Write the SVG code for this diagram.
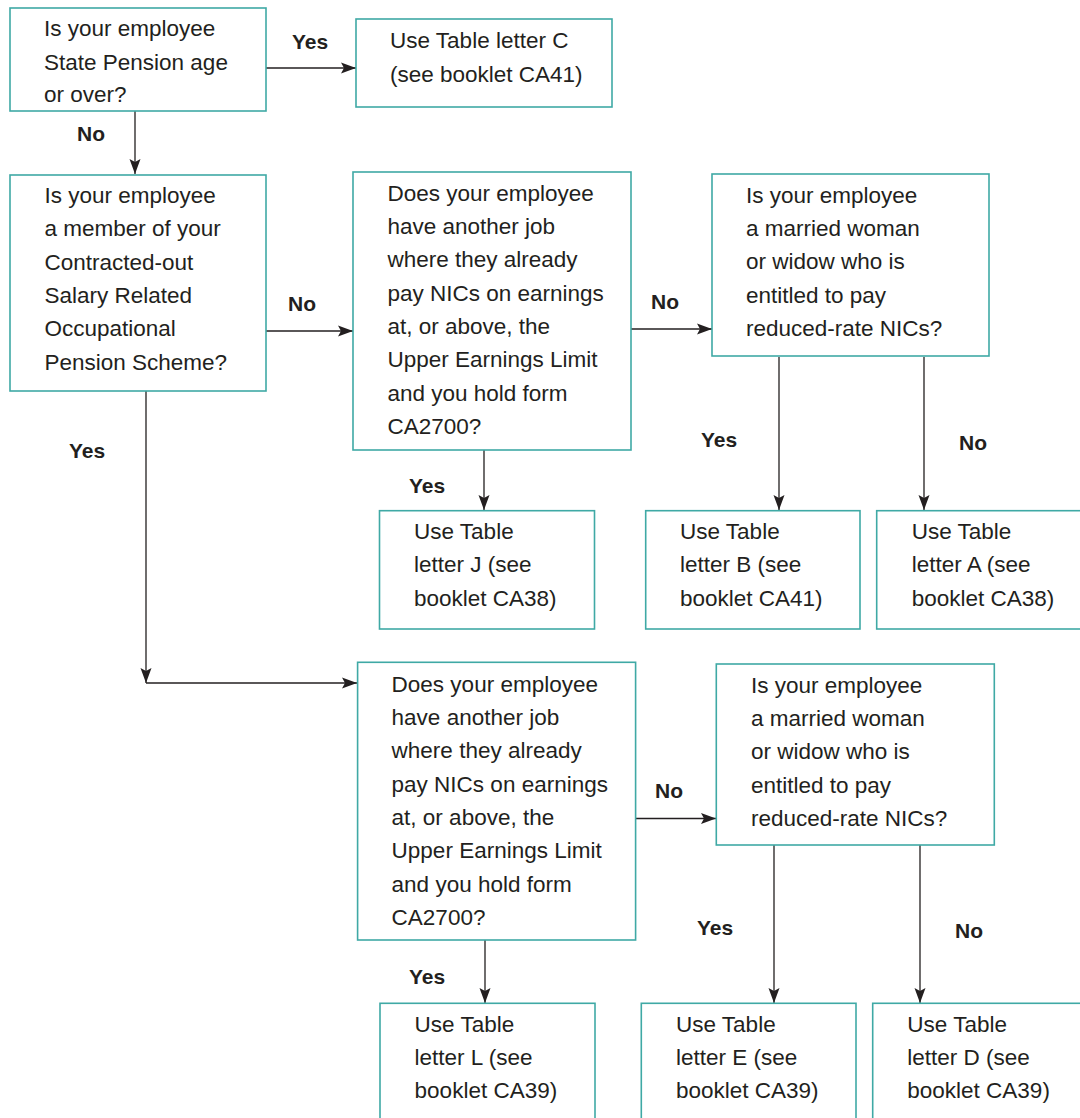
<svg xmlns="http://www.w3.org/2000/svg" width="1080" height="1118" viewBox="0 0 1080 1118">
<defs>
<marker id="ah" markerUnits="userSpaceOnUse" markerWidth="16" markerHeight="12" viewBox="0 0 16 12" refX="15" refY="6" orient="auto">
<path d="M0,0.5 L15,6 L0,11.5 L3,6 Z" fill="#231f20"/>
</marker>
<style>
.box{fill:#fff;stroke:#3fa9a5;stroke-width:1.6}
.t{font-family:"Liberation Sans",Arial,sans-serif;font-size:22.5px;fill:#231f20}
.lbl{font-family:"Liberation Sans",Arial,sans-serif;font-size:21px;font-weight:bold;fill:#231f20}
.c{fill:none;stroke:#231f20;stroke-width:1.3}
.a{marker-end:url(#ah)}
</style>
</defs>
<rect width="1080" height="1118" fill="#fff"/>

<g id="connectors">
<line class="c a" x1="266" y1="68" x2="356" y2="68"/>
<line class="c a" x1="135" y1="111" x2="135" y2="174"/>
<line class="c a" x1="266" y1="331" x2="353" y2="331"/>
<line class="c a" x1="631" y1="329" x2="712" y2="329"/>
<line class="c a" x1="779" y1="357" x2="779" y2="510"/>
<line class="c a" x1="924" y1="357" x2="924" y2="510"/>
<line class="c a" x1="484" y1="450" x2="484" y2="510"/>
<line class="c a" x1="146" y1="391" x2="146" y2="683"/>
<line class="c a" x1="146" y1="683" x2="357" y2="683"/>
<line class="c a" x1="636" y1="818.5" x2="716" y2="818.5"/>
<line class="c a" x1="485" y1="940" x2="485" y2="1003"/>
<line class="c a" x1="774" y1="845" x2="774" y2="1003"/>
<line class="c a" x1="920" y1="845" x2="920" y2="1003"/>
<text class="lbl" x="292" y="49">Yes</text>
<text class="lbl" x="77" y="141">No</text>
<text class="lbl" x="288" y="311">No</text>
<text class="lbl" x="651" y="309">No</text>
<text class="lbl" x="701" y="447">Yes</text>
<text class="lbl" x="959" y="450">No</text>
<text class="lbl" x="409" y="493">Yes</text>
<text class="lbl" x="69" y="458">Yes</text>
<text class="lbl" x="655" y="798">No</text>
<text class="lbl" x="409" y="984">Yes</text>
<text class="lbl" x="697" y="935">Yes</text>
<text class="lbl" x="955" y="938">No</text>
</g>

<g id="q-state-pension">
<rect class="box" x="10" y="8" width="256" height="103"/>
<text class="t" x="44" y="36">Is your employee</text>
<text class="t" x="44" y="69.5">State Pension age</text>
<text class="t" x="44" y="102">or over?</text>
</g>

<g id="r-table-c">
<rect class="box" x="356" y="19" width="256" height="88"/>
<text class="t" x="390" y="48">Use Table letter C</text>
<text class="t" x="390" y="82">(see booklet CA41)</text>
</g>

<g id="q-contracted-out">
<rect class="box" x="10" y="175" width="256" height="216"/>
<text class="t" x="44.5" y="203">Is your employee</text>
<text class="t" x="44.5" y="236.3">a member of your</text>
<text class="t" x="44.5" y="269.6">Contracted-out</text>
<text class="t" x="44.5" y="302.9">Salary Related</text>
<text class="t" x="44.5" y="336.2">Occupational</text>
<text class="t" x="44.5" y="369.5">Pension Scheme?</text>
</g>

<g id="q-another-job-1">
<rect class="box" x="353" y="172" width="278" height="278"/>
<text class="t" x="387.5" y="200.7">Does your employee</text>
<text class="t" x="387.5" y="234">have another job</text>
<text class="t" x="387.5" y="267.3">where they already</text>
<text class="t" x="387.5" y="300.6">pay NICs on earnings</text>
<text class="t" x="387.5" y="333.9">at, or above, the</text>
<text class="t" x="387.5" y="367.2">Upper Earnings Limit</text>
<text class="t" x="387.5" y="400.5">and you hold form</text>
<text class="t" x="387.5" y="433.8">CA2700?</text>
</g>

<g id="q-married-1">
<rect class="box" x="712" y="174" width="277" height="182"/>
<text class="t" x="746" y="202.7">Is your employee</text>
<text class="t" x="746" y="236">a married woman</text>
<text class="t" x="746" y="269.3">or widow who is</text>
<text class="t" x="746" y="302.6">entitled to pay</text>
<text class="t" x="746" y="335.9">reduced-rate NICs?</text>
</g>

<g id="r-table-j">
<rect class="box" x="379.5" y="510.7" width="215" height="118.3"/>
<text class="t" x="414" y="539">Use Table</text>
<text class="t" x="414" y="572.3">letter J (see</text>
<text class="t" x="414" y="605.6">booklet CA38)</text>
</g>

<g id="r-table-b">
<rect class="box" x="645.7" y="510.7" width="214.3" height="118.3"/>
<text class="t" x="680" y="539">Use Table</text>
<text class="t" x="680" y="572.3">letter B (see</text>
<text class="t" x="680" y="605.6">booklet CA41)</text>
</g>

<g id="r-table-a">
<rect class="box" x="876.7" y="510.7" width="230" height="118.3"/>
<text class="t" x="911.7" y="539">Use Table</text>
<text class="t" x="911.7" y="572.3">letter A (see</text>
<text class="t" x="911.7" y="605.6">booklet CA38)</text>
</g>

<g id="q-another-job-2">
<rect class="box" x="357.6" y="662.3" width="278" height="277.7"/>
<text class="t" x="391.6" y="691.7">Does your employee</text>
<text class="t" x="391.6" y="725">have another job</text>
<text class="t" x="391.6" y="758.3">where they already</text>
<text class="t" x="391.6" y="791.6">pay NICs on earnings</text>
<text class="t" x="391.6" y="824.9">at, or above, the</text>
<text class="t" x="391.6" y="858.2">Upper Earnings Limit</text>
<text class="t" x="391.6" y="891.5">and you hold form</text>
<text class="t" x="391.6" y="924.8">CA2700?</text>
</g>

<g id="q-married-2">
<rect class="box" x="716.3" y="664" width="278" height="181"/>
<text class="t" x="751" y="692.7">Is your employee</text>
<text class="t" x="751" y="726">a married woman</text>
<text class="t" x="751" y="759.3">or widow who is</text>
<text class="t" x="751" y="792.6">entitled to pay</text>
<text class="t" x="751" y="825.9">reduced-rate NICs?</text>
</g>

<g id="r-table-l">
<rect class="box" x="380" y="1003.3" width="215" height="130"/>
<text class="t" x="414.6" y="1031.7">Use Table</text>
<text class="t" x="414.6" y="1065">letter L (see</text>
<text class="t" x="414.6" y="1098.3">booklet CA39)</text>
</g>

<g id="r-table-e">
<rect class="box" x="641.3" y="1003.3" width="214.7" height="130"/>
<text class="t" x="676" y="1031.7">Use Table</text>
<text class="t" x="676" y="1065">letter E (see</text>
<text class="t" x="676" y="1098.3">booklet CA39)</text>
</g>

<g id="r-table-d">
<rect class="box" x="872.7" y="1003.3" width="230" height="130"/>
<text class="t" x="907.3" y="1031.7">Use Table</text>
<text class="t" x="907.3" y="1065">letter D (see</text>
<text class="t" x="907.3" y="1098.3">booklet CA39)</text>
</g>
</svg>
